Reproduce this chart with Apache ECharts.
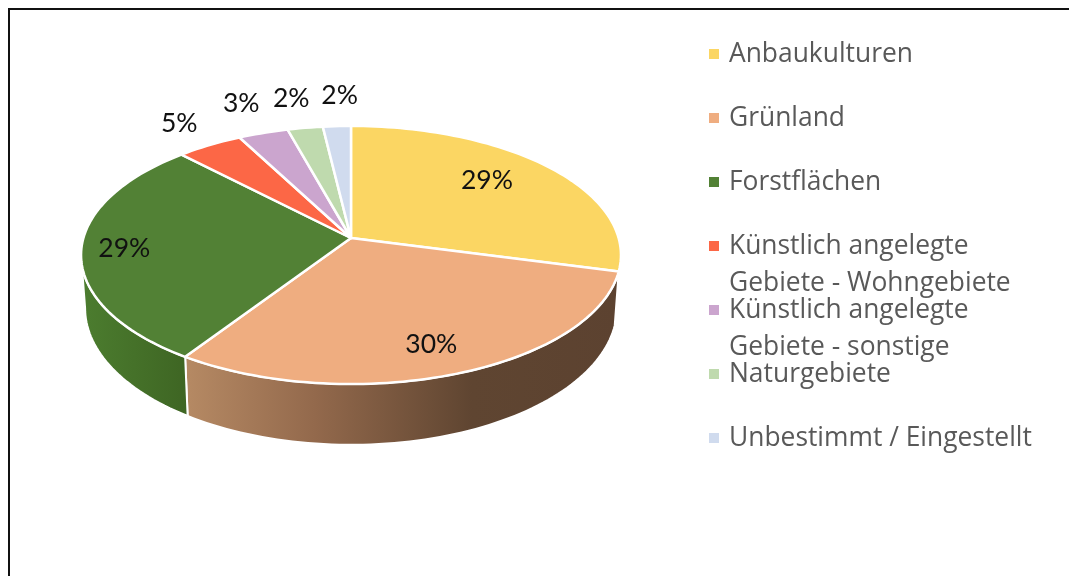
<!DOCTYPE html>
<html>
<head>
<meta charset="utf-8">
<style>
  html, body { margin: 0; padding: 0; background: #fff; }
  #chart { width: 1069px; height: 576px; }
</style>
<script src="https://cdn.jsdelivr.net/npm/echarts@6/dist/echarts.min.js"></script>
</head>
<body>
<div id="chart"></div>
<script>
var names = ['Anbaukulturen', 'Grünland', 'Forstflächen', 'Künstlich angelegte', 'Künstlich angelegte ', 'Naturgebiete', 'Unbestimmt / Eingestellt'];
var values = [29.1, 30.2, 28.5, 4.5, 3.4, 2.4, 1.9];
var colors = ['#FBD663', '#EFAD80', '#528135', '#FC6746', '#CBA5CE', '#BFDAAE', '#D0DBEE'];
// second lines of the wrapped legend entries
var legendWraps = [['Gebiete - Wohngebiete', 283], ['Gebiete - sonstige', 347]];
// where each percent label sits: distance from the hub (1 = on the rim) and degrees off the slice middle
var labelRadius = [0.744, 0.78, 0.84, 1.23, 1.28, 1.27, 1.27];
var labelTurn = [-4.4, 1.2, -0.6, 0.5, 0.5, -0.3, 1.25];

// tilted disc: hub position, scale and perspective
var hubX = 351, hubY = 238, scaleX = 267.6, scaleY = 126.8, persp = 0.1318;
// the underside of the disc
var depth = 52, lowerX = 0.985, lowerY = 1.06;

var wallStart = 97.6, wallEnd = 262.4;
var wallFills = {
  1: [[0, '#B68A64'], [0.3, '#93694C'], [0.66, '#5F4531'], [1, '#5C4230']],
  2: [[0, '#4C7D2F'], [1, '#3E6523']]
};

var labelFont = '26.5px Lato';
var legendFont = 'Open Sans';
var legendSize = 26.4;

var total = values.reduce(function (a, b) { return a + b; }, 0);

function project(deg, r, sx, sy, dy) {
  var t = deg * Math.PI / 180;
  var x = Math.sin(t), y = Math.cos(t);
  var d = 1 + persp * y;
  return [hubX + r * sx * scaleX * x / d, hubY + dy - r * sy * scaleY * y / d];
}

function sliceAngles(i) {
  var before = 0;
  for (var k = 0; k < i; k++) before += values[k];
  return [before / total * 360, (before + values[i]) / total * 360];
}

function rim(from, to, sx, sy, dy) {
  var pts = [];
  var n = Math.max(2, Math.ceil((to - from) / 1.5));
  for (var k = 0; k <= n; k++) {
    pts.push(project(from + (to - from) * k / n, 1, sx, sy, dy));
  }
  return pts;
}

function renderWall(params, api) {
  var i = api.value(0);
  var a = sliceAngles(i);
  var from = Math.max(a[0], wallStart), to = Math.min(a[1], wallEnd);
  if (to <= from || !wallFills[i]) return null;
  var pts = rim(from, to, 1, 1, 0).concat(rim(from, to, lowerX, lowerY, depth).reverse());
  return {
    type: 'polygon',
    shape: { points: pts },
    style: {
      fill: new echarts.graphic.LinearGradient(0, 0, 1, 0, wallFills[i].map(function (s) {
        return { offset: s[0], color: s[1] };
      })),
      stroke: '#fff',
      lineWidth: 2
    }
  };
}

function renderTop(params, api) {
  var i = params.seriesIndex - 1;
  var a = sliceAngles(i);
  var pts = [[hubX, hubY]].concat(rim(a[0], a[1], 1, 1, 0));
  var mid = project((a[0] + a[1]) / 2 + labelTurn[i], labelRadius[i], 1, 1, 0);
  return {
    type: 'group',
    children: [{
      type: 'polygon',
      shape: { points: pts },
      style: { fill: colors[i], stroke: '#fff', lineWidth: 2.5, lineJoin: 'round' }
    }, {
      type: 'text',
      z2: 10,
      style: {
        x: mid[0],
        y: mid[1],
        text: Math.round(api.value(0)) + '%',
        fill: '#111',
        font: labelFont,
        align: 'center',
        verticalAlign: 'middle'
      }
    }]
  };
}

var series = [{
  type: 'custom',
  name: 'Wände',
  coordinateSystem: 'none',
  silent: true,
  z: 1,
  renderItem: renderWall,
  data: values.map(function (v, i) { return [i, v]; })
}];

names.forEach(function (name, i) {
  series.push({
    type: 'custom',
    name: name,
    coordinateSystem: 'none',
    silent: true,
    z: 2,
    color: colors[i],
    itemStyle: { color: colors[i] },
    renderItem: renderTop,
    data: [[values[i]]]
  });
});

var chart = echarts.init(document.getElementById('chart'));
chart.setOption({
  animation: false,
  backgroundColor: '#fff',
  legend: {
    data: names.map(function (n, i) { return { name: n, icon: 'rect', itemStyle: { color: colors[i] } }; }),
    orient: 'vertical',
    left: 709,
    top: 41,
    padding: 0,
    selectedMode: false,
    itemWidth: 10,
    itemHeight: 10,
    itemGap: 38,
    textStyle: {
      color: '#595959',
      fontFamily: legendFont,
      fontSize: legendSize,
      lineHeight: 26,
      padding: [0, 0, 0, 5]
    }
  },
  graphic: [{
    type: 'polyline',
    silent: true,
    shape: { points: [[9, 576], [9, 9], [1069, 9]] },
    style: { stroke: '#111', lineWidth: 2, fill: null }
  }].concat(legendWraps.map(function (w) {
    return {
      type: 'text',
      silent: true,
      style: { x: 729, y: w[1], text: w[0], fill: '#595959', font: legendSize + 'px "' + legendFont + '"', verticalAlign: 'middle' }
    };
  })),
  series: series
});
</script>
</body>
</html>
